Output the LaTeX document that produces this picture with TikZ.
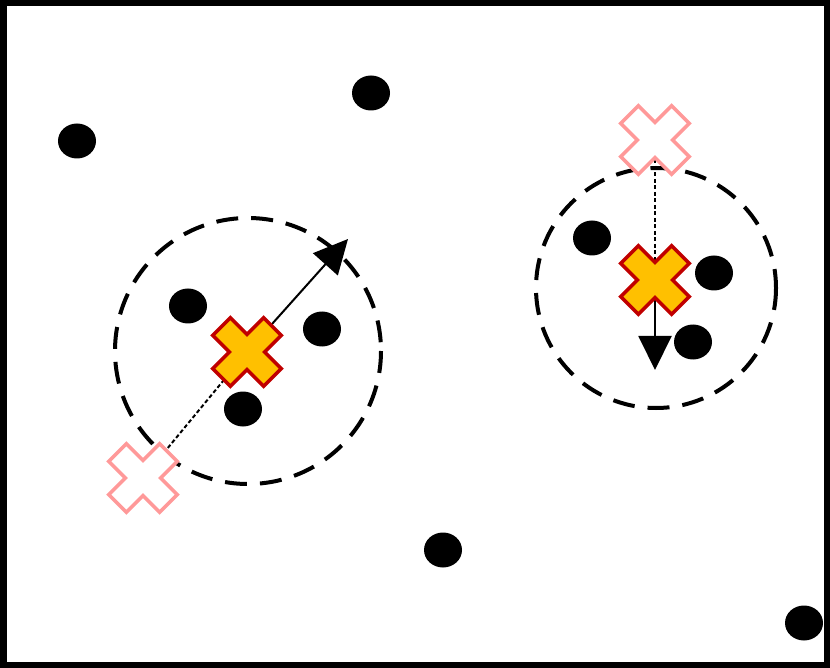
\documentclass[tikz,border=0pt]{standalone}
\usetikzlibrary{shapes.geometric,arrows.meta}
\definecolor{xorange}{HTML}{FFC000}
\definecolor{xred}{HTML}{C00000}
\definecolor{xpink}{HTML}{FF9999}
\tikzset{
  dot/.style={ellipse,fill=black,draw=none,minimum width=38pt,minimum height=35pt,inner sep=0pt},
  ring/.style={draw=black,line width=4pt,dash pattern=on 22pt off 13pt},
  move/.style={line width=2pt,-{Triangle[length=34pt,width=33pt]}},
  trail/.style={line width=2pt,dash pattern=on 4pt off 2.5pt},
  newx/.style={fill=xorange,draw=xred,line width=3.5pt,line join=miter},
  oldx/.style={fill=white,draw=xpink,line width=3.5pt,line join=miter},
  pics/xmark/.style={code={
    \path[rotate=45,#1] (-12.5,-12.5) -- (-12.5,-36) -- (12.5,-36) -- (12.5,-12.5) -- (36,-12.5) -- (36,12.5)
      -- (12.5,12.5) -- (12.5,36) -- (-12.5,36) -- (-12.5,12.5) -- (-36,12.5) -- (-36,-12.5) -- cycle;}}
}
\begin{document}
\begin{tikzpicture}[x=1pt,y=-1pt]
\useasboundingbox (0,0) rectangle (830,668);
% clusters
\draw[ring] (248,351) circle[radius=133];
\draw[ring] (656,288) circle[radius=120];
% centroid positions
\coordinate (p1) at (143,478);
\coordinate (o1) at (247,352);
\coordinate (a1) at (348,239);
\coordinate (p2) at (655,140);
\coordinate (o2) at (655,280);
\coordinate (a2) at (655,370);
% trails and moves
\draw[trail] (p1) -- (o1);
\draw[trail] (p2) -- (o2);
\draw[move] (o1) -- (a1);
\draw[move] (o2) -- (a2);
% points
\node[dot] (d1) at (77,141) {};
\node[dot] (d2) at (371,93) {};
\node[dot] (d3) at (188,306) {};
\node[dot] (d4) at (322,329) {};
\node[dot] (d5) at (243,409) {};
\node[dot] (d6) at (443,550) {};
\node[dot] (d7) at (804,623) {};
\node[dot] (d8) at (592,238) {};
\node[dot] (d9) at (714,273) {};
\node[dot] (d10) at (693,342) {};
% crosses
\pic at (p1) {xmark=oldx};
\pic at (p2) {xmark=oldx};
\pic at (o1) {xmark=newx};
\pic at (o2) {xmark=newx};
% frame
\draw[line width=6.5pt] (3.25,3.25) rectangle (826.75,664.75);
\end{tikzpicture}
\end{document}
